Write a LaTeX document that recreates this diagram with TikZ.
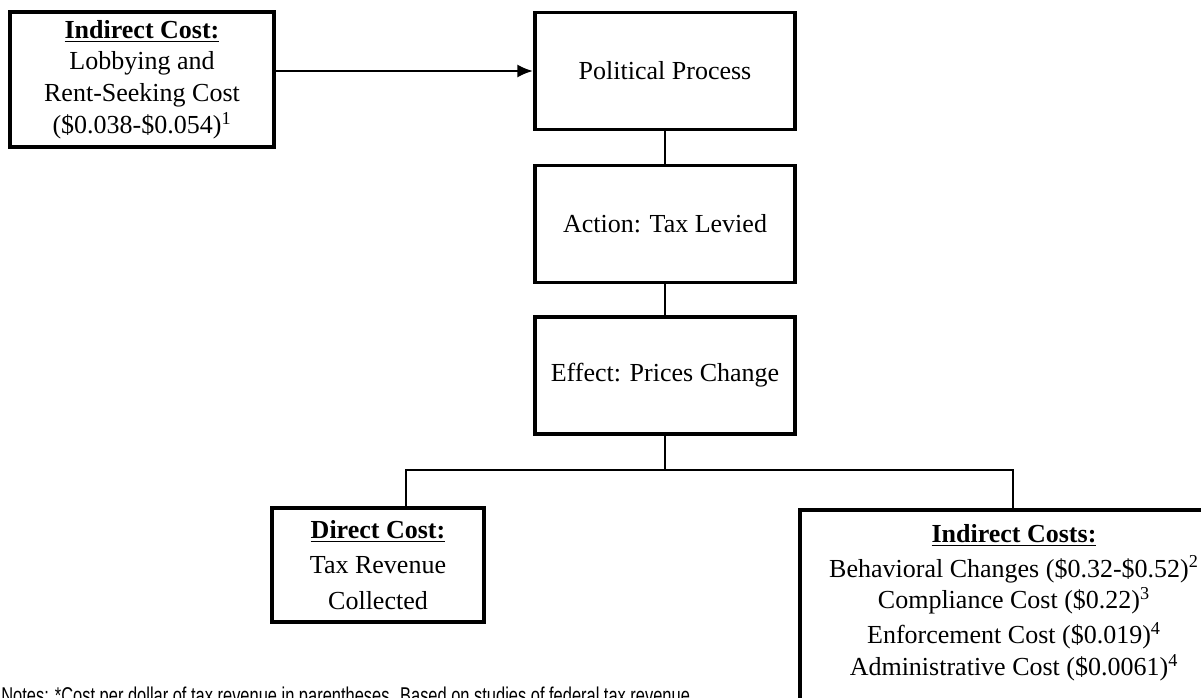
\documentclass[tikz,border=0pt]{standalone}
\usepackage{fontspec}
\setmainfont{Liberation Serif}
\newfontfamily\notefont{Liberation Sans}
\usepackage{graphicx}
\usetikzlibrary{positioning}
\usetikzlibrary{arrows,arrows.meta,shapes}
\usetikzlibrary{calc}

\begin{document}
\begin{tikzpicture}[x=0.02cm, y=-0.02cm, auto,
  costbox/.style={draw, line width=2.2pt, fill=white, align=center, inner sep=0pt,
    font=\fontsize{14.8}{18}\selectfont},
  link/.style={line width=0.8pt},
  push/.style={line width=1.4pt, -{Latex[length=9pt,width=7.5pt]}}]

 \useasboundingbox (0,0) rectangle (1201,697);
 \clip (0,0) rectangle (1201,697);

 %lobbying box
 \node[costbox, minimum width=5.28cm, minimum height=2.7cm] (lobby) at (142,79.5)
   {\underline{\textbf{Indirect Cost:}}\\ Lobbying and\\ Rent-Seeking Cost\\ (\$0.038-\$0.054)\textsuperscript{1}};

 %middle column
 \foreach \name/\y/\txt in {pol/71/Political Process, levy/224/Action: Tax Levied, effect/375.5/Effect: Prices Change} {
   \node[costbox, minimum width=5.2cm, minimum height=2.34cm] (\name) at (665,\y) {\txt};
 }

 %bottom row
 \node[costbox, minimum width=4.24cm, minimum height=2.28cm] (direct) at (378,565)
   {\underline{\textbf{Direct Cost:}}\\[2pt] Tax Revenue\\[2pt] Collected};
 \node[costbox, anchor=north, minimum width=8.56cm, inner ysep=8pt] (costs) at (1014,508)
   {\underline{\textbf{Indirect Costs:}}\\[2pt]
    Behavioral Changes (\$0.32-\$0.52)\textsuperscript{2}\\
    Compliance Cost (\$0.22)\textsuperscript{3}\\[2pt]
    Enforcement Cost (\$0.019)\textsuperscript{4}\\
    Administrative Cost (\$0.0061)\textsuperscript{4}\\[6pt] \mbox{}};

 %connectors
 \draw[push] (lobby.east |- pol) -- (pol.west);
 \foreach \a/\b in {pol/levy, levy/effect} {
   \draw[link] (\a.south) -- (\b.north);
 }
 \coordinate (split) at (665,470);
 \coordinate (dl) at (406,470);
 \coordinate (dr) at (1013,470);
 \draw[link] (effect.south) -- (split);
 \draw[link] (dl |- direct.north) -- (dl) -- (dr) -- (dr |- costs.north);

 %notes
 \node[anchor=base west, inner sep=0pt, font=\notefont\fontsize{13}{15}\selectfont] (notes) at (1,703)
   {\scalebox{0.72}[1]{Notes: *Cost per dollar of tax revenue in parentheses. Based on studies of federal tax revenue.}};

\end{tikzpicture}
\end{document}
